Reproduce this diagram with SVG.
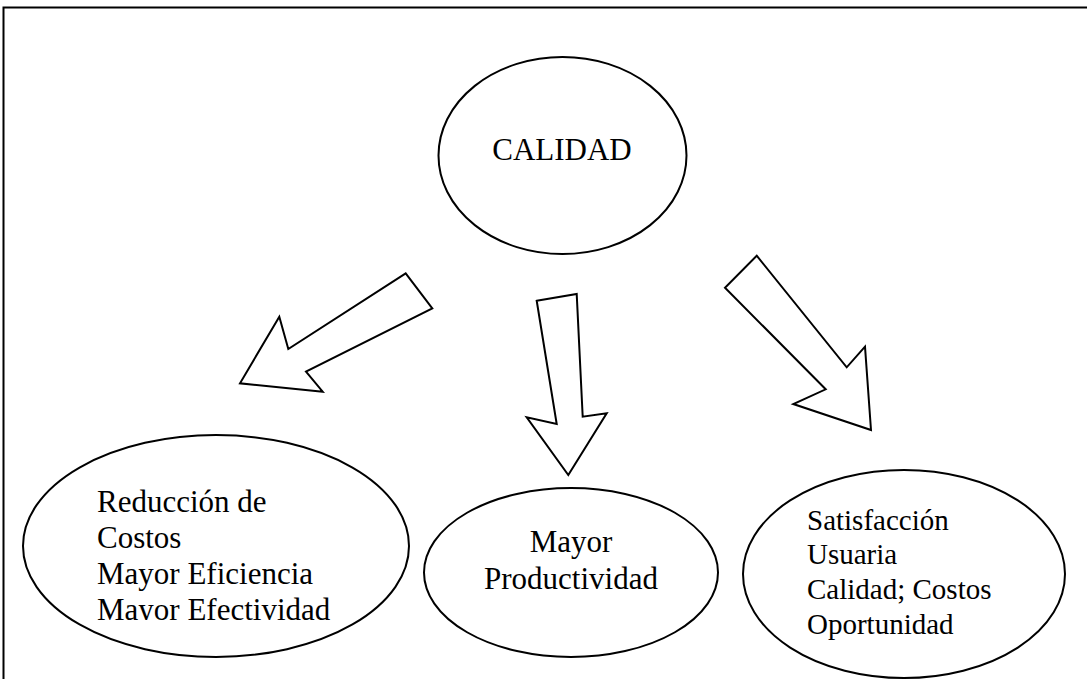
<svg xmlns="http://www.w3.org/2000/svg" width="1087" height="679" viewBox="0 0 1087 679">
<style>
.shape{fill:#fff;stroke:#000;stroke-width:2;stroke-linejoin:miter}
.t{font-family:"Liberation Serif","Times New Roman",serif;fill:#000}
</style>
<defs>
<clipPath id="clipLeft"><rect x="0" y="470" width="420" height="150"/></clipPath>
</defs>
<rect x="0" y="0" width="1087" height="679" fill="#fff"/>
<path d="M3.5,679 V7.5 H1087" fill="none" stroke="#000" stroke-width="2"/>
<g id="node-calidad">
<ellipse class="shape" cx="562.5" cy="155.5" rx="124" ry="98.5"/>
<text class="t" x="562" y="160" font-size="31" text-anchor="middle">CALIDAD</text>
</g>
<g id="connectors">
<polygon class="shape" points="405.7,273.3 432.3,308.3 306,371.7 322.7,391.7 240,383.3 279.3,316.7 288.3,349"/>
<polygon class="shape" points="536.7,300.7 576.7,294 582.7,416.7 606.7,413.3 568.3,475 526.7,417.3 556.7,424"/>
<polygon class="shape" points="756.7,255.7 846.7,367.3 865,346.7 871,430 793.3,404 825.7,389.3 725,287.7"/>
</g>
<g id="node-reduccion">
<ellipse class="shape" cx="216" cy="546" rx="193" ry="111"/>
<g clip-path="url(#clipLeft)">
<text class="t" font-size="31"><tspan x="97" y="512">Reducción de</tspan><tspan x="97" y="548">Costos</tspan><tspan x="97" y="584">Mayor Eficiencia</tspan><tspan x="97" y="620">Mayor Efectividad</tspan></text>
</g>
</g>
<g id="node-productividad">
<ellipse class="shape" cx="571" cy="572.5" rx="147" ry="84.5"/>
<text class="t" font-size="31" text-anchor="middle"><tspan x="571" y="552">Mayor</tspan><tspan x="571" y="589">Productividad</tspan></text>
</g>
<g id="node-satisfaccion">
<ellipse class="shape" cx="904" cy="574" rx="161" ry="104"/>
<text class="t" font-size="29"><tspan x="807" y="530">Satisfacción</tspan><tspan x="807" y="564">Usuaria</tspan><tspan x="807" y="599">Calidad; Costos</tspan><tspan x="807" y="634">Oportunidad</tspan></text>
</g>
</svg>
